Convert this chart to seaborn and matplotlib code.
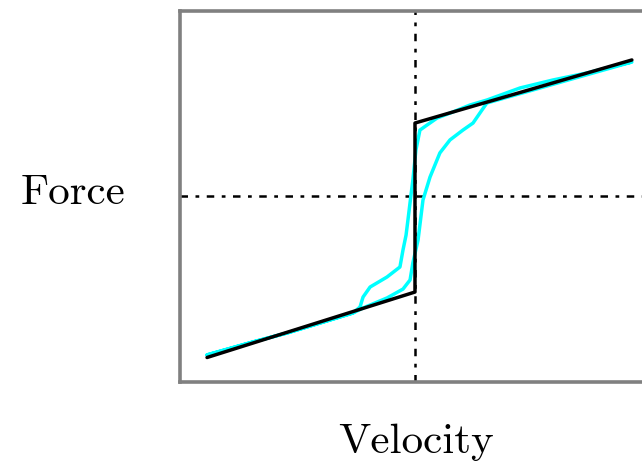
import numpy as np
import pandas as pd
import seaborn as sns
from matplotlib import pyplot as plt

# Model de fricció: Coulomb + viscós (negre)
vel_model = [-0.885, 0.0, 0.0, 0.923]
forca_model = [-0.868, -0.515, 0.396, 0.736]

# Cicle d'histèresi mesurat (cian)
vel_mesura = [-0.885, -0.689, -0.545, -0.404, -0.264, -0.234, -0.221, -0.191,
              -0.119, -0.064, -0.051, -0.038, -0.030, -0.017, -0.009, 0.004,
              0.021, 0.051, 0.094, 0.162, 0.234, 0.306, 0.447, 0.587, 0.732,
              0.830, 0.923,
              0.306, 0.285, 0.247, 0.204, 0.149, 0.106, 0.064, 0.034, 0.013,
              -0.009, -0.021, -0.051, -0.119, -0.221, -0.264, -0.404, -0.545,
              -0.689, -0.885]
forca_mesura = [-0.854, -0.784, -0.736, -0.682, -0.628, -0.596, -0.542, -0.488,
                -0.434, -0.380, -0.288, -0.208, -0.127, 0.008, 0.089, 0.251,
                0.358, 0.385, 0.423, 0.456, 0.493, 0.520, 0.585, 0.628, 0.666,
                0.698, 0.725,
                0.504, 0.466, 0.396, 0.358, 0.305, 0.235, 0.105, -0.019, -0.235,
                -0.358, -0.450, -0.499, -0.547, -0.601, -0.628, -0.682, -0.736,
                -0.784, -0.854]

sns.set_style("white")
plt.rcParams["font.family"] = ["cmr10", "DejaVu Serif"]
plt.rcParams["axes.formatter.use_mathtext"] = True

fig = plt.figure(figsize=(6.42, 4.68), dpi=100)
ax = fig.add_axes([0.2804, 0.1838, 0.732, 0.7927])

df_mesura = pd.DataFrame({"v": vel_mesura, "f": forca_mesura})
df_model = pd.DataFrame({"v": vel_model, "f": forca_model})

sns.lineplot(data=df_mesura, x="v", y="f", sort=False, estimator=None,
             color="#00ffff", linewidth=2.5, ax=ax)
sns.lineplot(data=df_model, x="v", y="f", sort=False, estimator=None,
             color="black", linewidth=2.5, ax=ax)

ax.axhline(0, color="black", linestyle=(0, (3, 3, 1.5, 3)), linewidth=1.8, zorder=0)
ax.axvline(0, color="black", linestyle=(0, (3, 3, 1.5, 3)), linewidth=1.8, zorder=0)

ax.set_xlim(-1, 1)
ax.set_ylim(-1, 1)
ax.set_xticks([])
ax.set_yticks([])
ax.set_xlabel("")
ax.set_ylabel("")
for s in ax.spines.values():
    s.set_color("#808080")
    s.set_linewidth(2.6)

fig.text(0.113, 1 - 193 / 468, "Force", fontsize=31, color="black",
         ha="center", va="center")
fig.text(0.648, 1 - 442 / 468, "Velocity", fontsize=31, color="black",
         ha="center", va="center")

fig.savefig("out.png", dpi=100)
